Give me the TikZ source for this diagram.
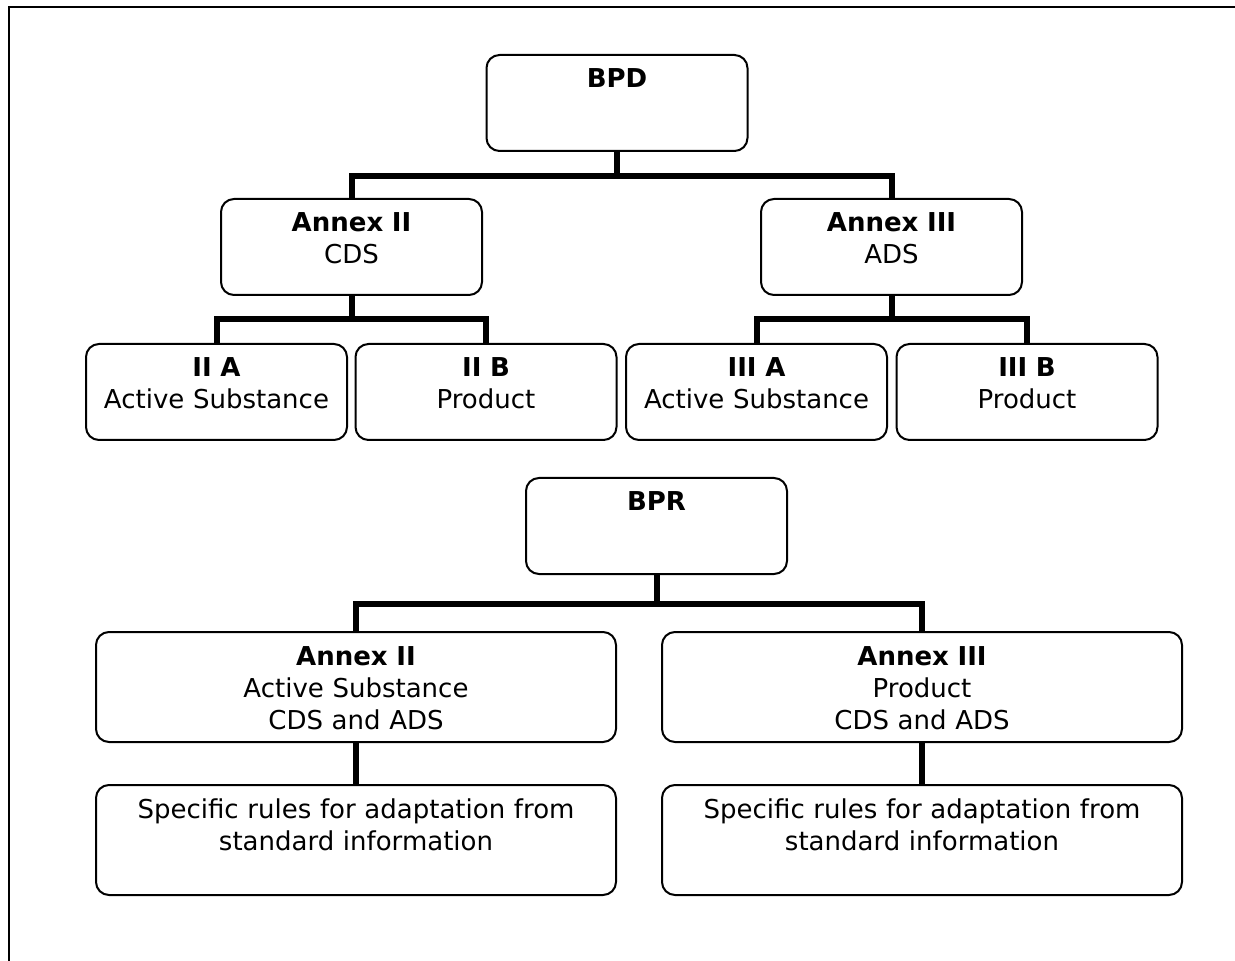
\documentclass[tikz,border=0pt]{standalone}
\usepackage{fontspec}
\setmainfont{DejaVu Sans}
\usepackage{tikz}
\tikzset{
  annexbox/.style={draw, line width=1pt, rounded corners=6.5pt, align=center, anchor=north, text width=130.5pt, inner xsep=0pt, inner ysep=6.5pt, text height=10pt, text depth=25pt},
  widebox/.style={annexbox, text width=260pt, text depth=32pt},
  link/.style={line width=3pt},
  frameline/.style={line width=1pt}
}
\begin{document}
\begin{tikzpicture}[x=0.5pt, y=-0.5pt, font=\fontsize{13pt}{16pt}\selectfont]
  \useasboundingbox (0,0) rectangle (1235,961);
  \draw[frameline] (1235,7) -- (9,7) -- (9,961);

  % BPD tree
  \node[annexbox] (bpd) at (617,54) {\textbf{BPD}};
  \node[annexbox] (cds) at (351.5,198) {\textbf{Annex II}\\CDS};
  \node[annexbox] (ads) at (891.5,198) {\textbf{Annex III}\\ADS};
  \node[annexbox] (iia) at (216.5,343) {\textbf{II A}\\Active Substance};
  \node[annexbox] (iib) at (486,343) {\textbf{II B}\\Product};
  \node[annexbox] (iiia) at (756.5,343) {\textbf{III A}\\Active Substance};
  \node[annexbox] (iiib) at (1027,343) {\textbf{III B}\\Product};

  \draw[link] (bpd.south) -- ++(0,24) -| (cds.north);
  \draw[link] (bpd.south) -- ++(0,24) -| (ads.north);
  \draw[link] (cds.south) -- ++(0,23) -| (iia.north);
  \draw[link] (cds.south) -- ++(0,23) -| (iib.north);
  \draw[link] (ads.south) -- ++(0,23) -| (iiia.north);
  \draw[link] (ads.south) -- ++(0,23) -| (iiib.north);

  % BPR tree
  \node[annexbox] (bpr) at (656.5,477) {\textbf{BPR}};
  \node[widebox] (annexii) at (356,631) {\textbf{Annex II}\\Active Substance\\CDS and ADS};
  \node[widebox] (annexiii) at (922,631) {\textbf{Annex III}\\Product\\CDS and ADS};
  \node[widebox] (rulesii) at (356,784) {Specific rules for adaptation from\\standard information};
  \node[widebox] (rulesiii) at (922,784) {Specific rules for adaptation from\\standard information};

  \draw[link] (bpr.south) -- ++(0,29) -| (annexii.north);
  \draw[link] (bpr.south) -- ++(0,29) -| (annexiii.north);
  \draw[link] (annexii) -- (rulesii);
  \draw[link] (annexiii) -- (rulesiii);
\end{tikzpicture}
\end{document}
